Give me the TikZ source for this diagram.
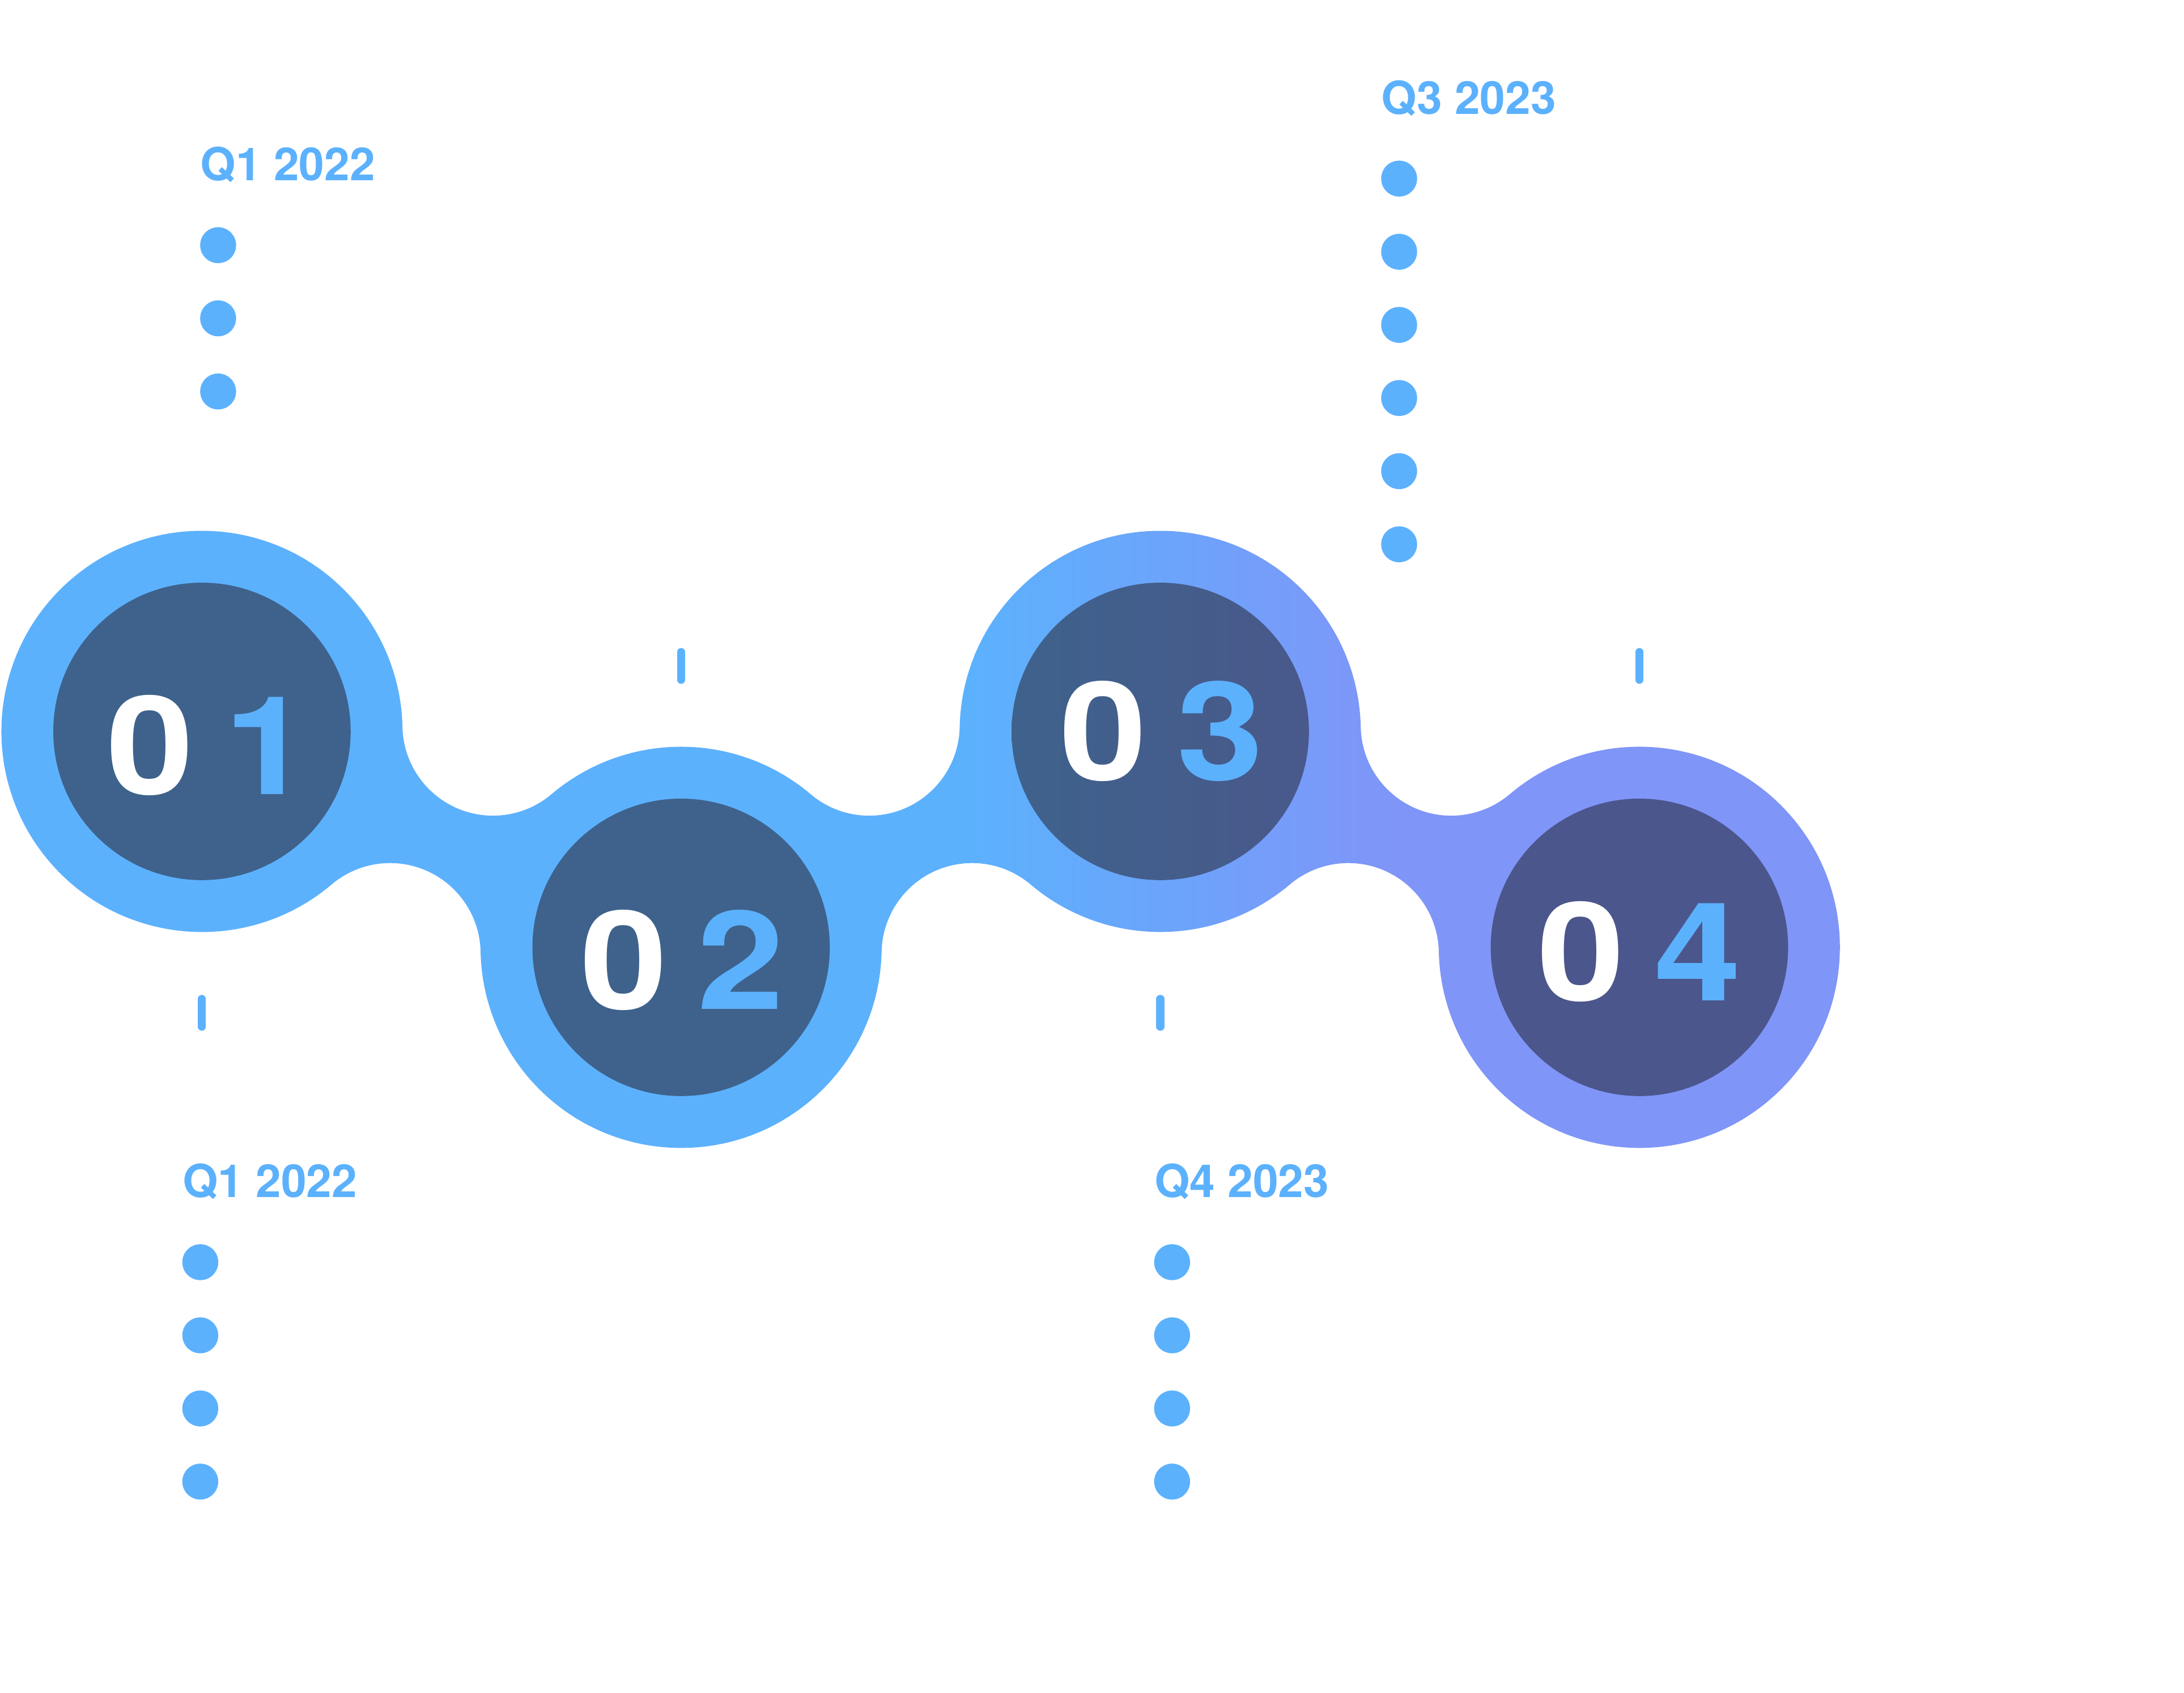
\documentclass[tikz,border=0pt]{standalone}
\usepackage{fontspec}
\setmainfont{TeX Gyre Heros}
\usepackage{graphicx}
\usetikzlibrary{calc}
\definecolor{blobblue}{HTML}{5CB1FD}
\definecolor{blobviolet}{HTML}{7F95F8}
\definecolor{coreblue}{HTML}{3E628C}
\definecolor{coremid}{HTML}{49598B}
\definecolor{coreviolet}{HTML}{4B568C}
\newcommand{\wdigit}[1]{\scalebox{1.14}[1]{#1}}
\newcommand{\stepno}[1]{\textcolor{white}{\wdigit{0}}\hspace{4.3mm}\textcolor{blobblue}{\wdigit{#1}}}

\begin{document}
\begin{tikzpicture}[
x=0.2mm,y=0.2mm,
core/.style={circle,minimum size=42.7mm,inner sep=0pt},
num/.style={inner sep=0pt,font=\fontsize{56}{60}\selectfont\bfseries},
quarter/.style={inner sep=0pt,anchor=base west,text=blobblue,font=\fontsize{18.6}{20}\selectfont\bfseries},
dot/.style={circle,fill=blobblue,minimum size=5.16mm,inner sep=0pt},
tick/.style={blobblue,line width=1.15mm,line cap=round}
]
\useasboundingbox (0,0) rectangle (1568,-1215);
% circle centres
\coordinate (c1) at (145,-525);
\coordinate (c2) at (489,-680);
\coordinate (c3) at (833,-525);
\coordinate (c4) at (1177,-680);

% band with fillets
\begin{scope}
\clip (c1) ++(-49.748:144)
  arc[start angle=-49.748,end angle=-358.764,radius=144]
  arc[start angle=181.236,end angle=310.252,radius=65]
  arc[start angle=130.252,end angle=49.748,radius=144]
  arc[start angle=229.748,end angle=358.764,radius=65]
  arc[start angle=178.764,end angle=1.236,radius=144]
  arc[start angle=181.236,end angle=310.252,radius=65]
  arc[start angle=130.252,end angle=-178.764,radius=144]
  arc[start angle=1.236,end angle=130.252,radius=65]
  arc[start angle=-49.748,end angle=-130.252,radius=144]
  arc[start angle=49.748,end angle=178.764,radius=65]
  arc[start angle=-1.236,end angle=-178.764,radius=144]
  arc[start angle=1.236,end angle=130.252,radius=65]
  -- cycle;
\fill[blobblue] (-10,-300) rectangle (701,-900);
\shade[left color=blobblue,right color=blobviolet] (700,-300) rectangle (1000,-900);
\fill[blobviolet] (999,-300) rectangle (1400,-900);
\end{scope}

% inner discs
\node[core,fill=coreblue] (n1) at (c1) {};
\node[core,fill=coreblue] (n2) at (c2) {};
\node[core,left color=coreblue,right color=coremid] (n3) at (c3) {};
\node[core,fill=coreviolet] (n4) at (c4) {};

\node[num] (t1) at ($(n1)+(5,-10)$) {\stepno{1}};
\node[num] (t2) at ($(n2)+(1,-9)$) {\stepno{2}};
\node[num] (t3) at ($(n3)+(1,0)$) {\stepno{3}};
\node[num] (t4) at ($(n4)+(0,-3)$) {\stepno{4}};

% ticks
\draw[tick] ($(c1)+(0,-192)$) -- ($(c1)+(0,-212)$);
\draw[tick] ($(c2)+(0,192)$) -- ($(c2)+(0,212)$);
\draw[tick] ($(c3)+(0,-192)$) -- ($(c3)+(0,-212)$);
\draw[tick] ($(c4)+(0,192)$) -- ($(c4)+(0,212)$);

% quarters
\node[quarter] (q1top) at (143.5,-129.6) {Q1 2022};
\foreach \i in {0,...,2}
  \node[dot] (q1top-\i) at ($(q1top.base west)+(13.1,-46.4-52.5*\i)$) {};
\node[quarter] (q3top) at (991.4,-81.8) {Q3 2023};
\foreach \i in {0,...,5}
  \node[dot] (q3top-\i) at ($(q3top.base west)+(13.1,-46.4-52.5*\i)$) {};
\node[quarter] (q1bot) at (130.7,-859.6) {Q1 2022};
\foreach \i in {0,...,3}
  \node[dot] (q1bot-\i) at ($(q1bot.base west)+(13.1,-46.4-52.5*\i)$) {};
\node[quarter] (q4bot) at (828.4,-859.6) {Q4 2023};
\foreach \i in {0,...,3}
  \node[dot] (q4bot-\i) at ($(q4bot.base west)+(13.1,-46.4-52.5*\i)$) {};
\end{tikzpicture}
\end{document}
